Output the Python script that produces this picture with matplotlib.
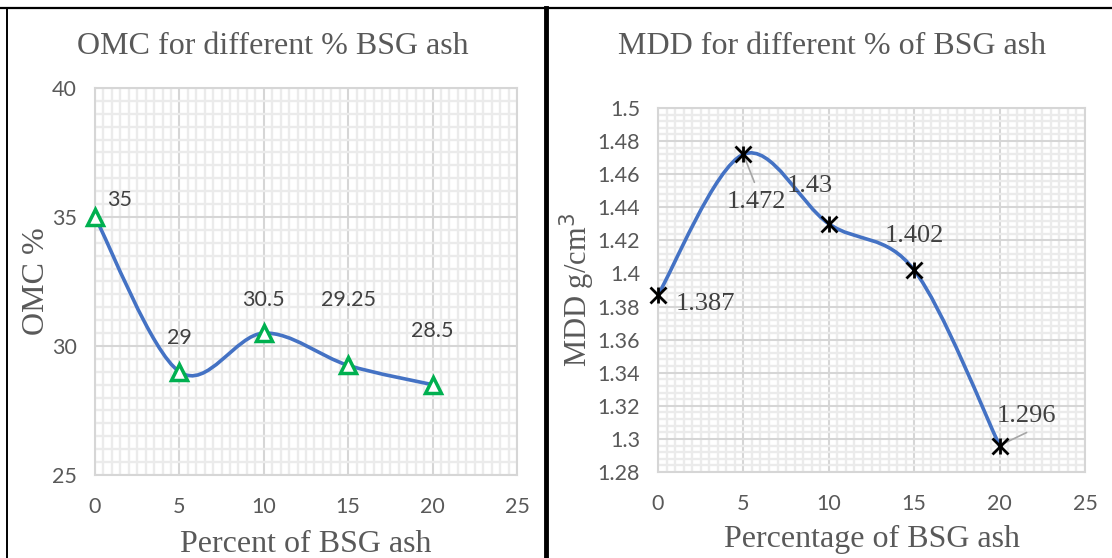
import numpy as np
import matplotlib.pyplot as plt
from matplotlib.path import Path
from matplotlib.patches import PathPatch
from matplotlib.lines import Line2D
from matplotlib.ticker import MultipleLocator

# OMC / MDD results for BSG ash replacement
ash_pct = [0, 5, 10, 15, 20]
omc = [35, 29, 30.5, 29.25, 28.5]
mdd = [1.387, 1.472, 1.43, 1.402, 1.296]
omc_labels = ["35", "29", "30.5", "29.25", "28.5"]
mdd_labels = ["1.387", "1.472", "1.43", "1.402", "1.296"]

SERIF = "Liberation Serif"
SANS = "Lato"
LINE_BLUE = "#4472C4"
TXT = "#595959"
LBL = "#404040"
W, H = 1112, 558


def smooth_path(x, y):
    # Excel-style smoothed line: cubic Bezier with Catmull-Rom control points
    pts = np.column_stack([x, y]).astype(float)
    n = len(pts)
    verts = [pts[0]]
    codes = [Path.MOVETO]
    for i in range(n - 1):
        p0 = pts[max(i - 1, 0)]
        p1 = pts[i]
        p2 = pts[i + 1]
        p3 = pts[min(i + 2, n - 1)]
        c1 = p1 + (p2 - p0) / 6.0
        c2 = p2 - (p3 - p1) / 6.0
        verts += [c1, c2, p2]
        codes += [Path.CURVE4] * 3
    return Path(verts, codes)


def style_axes(ax, xmax, ymin, ymax, ymajor, yminor):
    ax.set_xlim(0, xmax)
    ax.set_ylim(ymin, ymax)
    ax.xaxis.set_major_locator(MultipleLocator(5))
    ax.xaxis.set_minor_locator(MultipleLocator(0.5))
    ax.yaxis.set_major_locator(MultipleLocator(ymajor))
    ax.yaxis.set_minor_locator(MultipleLocator(yminor))
    ax.grid(which="minor", color="#EBEBEB", lw=1.7, zorder=0)
    ax.grid(which="major", color="#D6D6D6", lw=1.5, zorder=0)
    ax.set_axisbelow(True)
    for s in ax.spines.values():
        s.set_color("#D6D6D6")
        s.set_linewidth(1.5)
    ax.tick_params(which="both", length=0)
    ax.tick_params(axis="y", pad=13, labelsize=15.5, labelcolor=TXT)
    ax.tick_params(axis="x", pad=16, labelsize=15.5, labelcolor=TXT)


def set_tick_font(ax):
    for t in ax.get_xticklabels() + ax.get_yticklabels():
        t.set_fontfamily(SANS)


fig = plt.figure(figsize=(W / 100, H / 100), dpi=100)

# ---- left: OMC ----
ax1 = fig.add_axes([95 / W, 1 - 475 / H, 422 / W, 387 / H])
style_axes(ax1, 25, 25, 40, 5, 0.5)
set_tick_font(ax1)
ax1.add_patch(PathPatch(smooth_path(ash_pct, omc), fc="none",
                        ec=LINE_BLUE, lw=2.6, zorder=3, capstyle="round"))
ax1.plot(ash_pct, omc, ls="none", marker="^", ms=11.5, mfc="white",
         mec="#00B050", mew=2.5, zorder=4, clip_on=False)
omc_off = [(25, 17), (0, 34), (0, 33), (0, 65), (0, 54)]
for x, y, s, off in zip(ash_pct, omc, omc_labels, omc_off):
    ax1.annotate(s, (x, y), xytext=off, textcoords="offset pixels",
                 ha="center", va="center", fontsize=15.5, family=SANS, color=LBL)
ax1.set_xlabel("Percent of BSG ash", family=SERIF, fontsize=23, color=TXT,
               labelpad=9)
ax1.set_ylabel("OMC %", family=SERIF, fontsize=23, color=TXT, labelpad=1)

# ---- right: MDD ----
ax2 = fig.add_axes([658 / W, 1 - 472 / H, 427 / W, 364 / H])
style_axes(ax2, 25, 1.28, 1.5, 0.02, 0.004)
ax2.yaxis.set_major_formatter(
    plt.FuncFormatter(lambda v, p: f"{v:.2f}".rstrip("0").rstrip(".")))
set_tick_font(ax2)
ax2.add_patch(PathPatch(smooth_path(ash_pct, mdd), fc="none",
                        ec=LINE_BLUE, lw=2.6, zorder=3, capstyle="round"))
ax2.plot(ash_pct, mdd, ls="none", marker="x", ms=12, mec="black", mew=2,
         zorder=4, clip_on=False)
ax2.plot(ash_pct, mdd, ls="none", marker="|", ms=12, mec="black", mew=2,
         zorder=4, clip_on=False)
mdd_off = [(47, -9), (13, -48), (-19, 38), (0, 34), (27, 30)]
for x, y, s, off in zip(ash_pct, mdd, mdd_labels, mdd_off):
    ax2.annotate(s, (x, y), xytext=off, textcoords="offset pixels",
                 ha="center", va="center", fontsize=19, family=SERIF, color=LBL)
# leader lines for the labels that were dragged away from their points
ax2.annotate("", (ash_pct[1], mdd[1]), xytext=(11, -28), textcoords="offset pixels",
             arrowprops=dict(arrowstyle="-", color="#A6A6A6", lw=1.2,
                             shrinkA=0, shrinkB=0))
ax2.annotate("", (ash_pct[4], mdd[4]), xytext=(27, 13), textcoords="offset pixels",
             arrowprops=dict(arrowstyle="-", color="#A6A6A6", lw=1.2,
                             shrinkA=0, shrinkB=0))
ax2.set_xlabel("Percentage of BSG ash", family=SERIF, fontsize=23, color=TXT,
               labelpad=8)
ax2.set_ylabel("MDD g/cm$^3$", family=SERIF, fontsize=22, color=TXT, labelpad=0)

# chart titles are centred on each panel, not on the plot area
fig.text(273 / W, 1 - 47 / H, "OMC for different % BSG ash", family=SERIF,
         fontsize=23, color=TXT, ha="center", va="center")
fig.text(832 / W, 1 - 47 / H, "MDD for different % of BSG ash", family=SERIF,
         fontsize=23, color=TXT, ha="center", va="center")

# panel frames
fig.add_artist(Line2D([0, 1], [1 - 8 / H] * 2, transform=fig.transFigure,
                      color="black", lw=1.6))
fig.add_artist(Line2D([7 / W] * 2, [0, 1 - 8 / H], transform=fig.transFigure,
                      color="black", lw=1.4))
fig.add_artist(Line2D([546 / W] * 2, [0, 1 - 8 / H], transform=fig.transFigure,
                      color="black", lw=3.5))

fig.savefig("out.png", dpi=100)
